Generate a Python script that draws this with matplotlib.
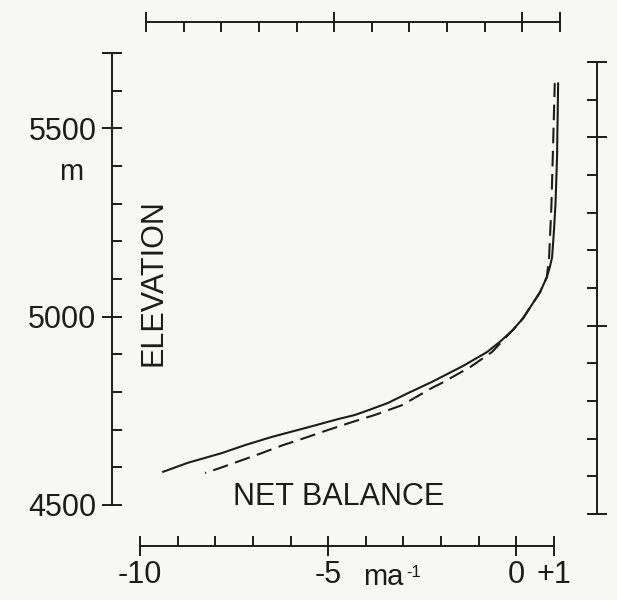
import matplotlib
matplotlib.use("Agg")
import matplotlib.pyplot as plt
from matplotlib.ticker import FixedLocator, FixedFormatter, NullFormatter

plt.rcParams['font.family'] = ['Liberation Sans', 'DejaVu Sans']

# ---- data ----
bal_solid = [-9.39, -8.73, -7.82, -7.21, -6.49, -5.62, -4.74, -4.29, -3.84,
             -3.41, -2.88, -2.24, -1.42, -0.78, -0.44, -0.09, 0.18, 0.44,
             0.63, 0.81, 0.89, 0.95, 1.00, 1.04, 1.08, 1.11]
elev_solid = [4588, 4612, 4638, 4659, 4681, 4704, 4728, 4739, 4755,
              4771, 4797, 4827, 4869, 4906, 4933, 4965, 4996, 5036,
              5065, 5105, 5132, 5158, 5230, 5300, 5420, 5620]

bal_dash = [-8.27, -7.88, -6.76, -6.20, -5.62, -5.01, -4.37, -3.76, -3.04,
            -2.24, -1.98, -1.23, -0.65, -0.09, 0.18, 0.44, 0.63, 0.81,
            0.87, 0.93, 0.98, 1.02]
elev_dash = [4585, 4598, 4638, 4659, 4678, 4699, 4720, 4739, 4765,
             4811, 4824, 4866, 4906, 4965, 4996, 5036, 5065, 5105,
             5158, 5291, 5469, 5620]

x_major = [-10, -5, 0, 1]
x_major_labels = ['-10', '-5', '0', '+1']
x_minor = [-9, -8, -7, -6, -4, -3, -2, -1]
y_major = [4500, 5000, 5500, 5700]
y_major_labels = ['4500', '5000', '5500', '']
y_minor = [4600, 4700, 4800, 4900, 5100, 5200, 5300, 5400, 5600]

# ---- layout ----
W, H = 617, 600
BG = '#f7f8f6'
INK = '#1c1c1c'
LW = 1.4
PT = 0.72  # points per pixel at 100 dpi

fig = plt.figure(figsize=(W / 100, H / 100), dpi=100)
fig.patch.set_facecolor(BG)

def fx(px):
    return px / W

def fy(py):
    return 1 - py / H

X0, X1 = 140, 554   # pixel of -10 and +1
Y0, Y1 = 505, 53    # pixel of 4500 and 5700

ax = fig.add_axes([fx(X0), fy(Y0), (X1 - X0) / W, (Y0 - Y1) / H])
ax.set_xlim(-10, 1)
ax.set_ylim(4500, 5700)
ax.patch.set_visible(False)
for s in ('top', 'right'):
    ax.spines[s].set_visible(False)
ax.spines['left'].set_position(('outward', (X0 - 112) * PT))
ax.spines['left'].set_bounds(4500, 5700)
ax.spines['bottom'].set_position(('outward', (546 - Y0) * PT))
ax.spines['bottom'].set_bounds(-10, 1)
for s in ('left', 'bottom'):
    ax.spines[s].set_linewidth(LW)
    ax.spines[s].set_color(INK)

ax.xaxis.set_major_locator(FixedLocator(x_major))
ax.xaxis.set_major_formatter(FixedFormatter(x_major_labels))
ax.xaxis.set_minor_locator(FixedLocator(x_minor))
ax.yaxis.set_major_locator(FixedLocator(y_major))
ax.yaxis.set_major_formatter(FixedFormatter(y_major_labels))
ax.yaxis.set_minor_locator(FixedLocator(y_minor))
ax.tick_params(which='major', direction='inout', length=20 * PT, width=LW,
               color=INK, labelsize=22, labelcolor=INK)
ax.tick_params(which='minor', direction='in', length=10 * PT, width=LW, color=INK)
ax.tick_params(axis='x', which='major', pad=3)
ax.tick_params(axis='y', which='major', pad=4)

ax.plot(bal_solid, elev_solid, color=INK, lw=1.5, solid_capstyle='round',
        solid_joinstyle='round', clip_on=False)
ax.plot(bal_dash, elev_dash, color=INK, lw=1.5, linestyle=(7.0, (7.5, 3.6)),
        clip_on=False)

# top axis (slightly shifted as in the scan)
axt = fig.add_axes([fx(X0 + 6), fy(Y0), (X1 - X0) / W, (Y0 - Y1) / H])
axt.set_xlim(-10, 1)
axt.patch.set_visible(False)
for s in ('bottom', 'left', 'right'):
    axt.spines[s].set_visible(False)
axt.spines['top'].set_position(('outward', (Y1 - 22) * PT))
axt.spines['top'].set_bounds(-10, 1)
axt.spines['top'].set_linewidth(LW)
axt.spines['top'].set_color(INK)
axt.yaxis.set_visible(False)
axt.xaxis.tick_top()
axt.xaxis.set_major_locator(FixedLocator(x_major))
axt.xaxis.set_major_formatter(NullFormatter())
axt.xaxis.set_minor_locator(FixedLocator(x_minor))
axt.tick_params(which='major', direction='inout', length=20 * PT, width=LW, color=INK)
axt.tick_params(which='minor', direction='in', length=10 * PT, width=LW, color=INK)

# right axis (slightly shifted as in the scan)
axr = fig.add_axes([fx(X0), fy(Y0 + 9), (X1 - X0) / W, (Y0 - Y1) / H])
axr.set_ylim(4500, 5700)
axr.patch.set_visible(False)
for s in ('bottom', 'left', 'top'):
    axr.spines[s].set_visible(False)
axr.spines['right'].set_position(('outward', (597 - X1) * PT))
axr.spines['right'].set_bounds(4500, 5700)
axr.spines['right'].set_linewidth(LW)
axr.spines['right'].set_color(INK)
axr.xaxis.set_visible(False)
axr.yaxis.tick_right()
axr.yaxis.set_major_locator(FixedLocator(y_major))
axr.yaxis.set_major_formatter(NullFormatter())
axr.yaxis.set_minor_locator(FixedLocator(y_minor))
axr.tick_params(which='major', direction='inout', length=20 * PT, width=LW, color=INK)
axr.tick_params(which='minor', direction='in', length=10 * PT, width=LW, color=INK)

# labels
fig.text(fx(71), fy(172), 'm', fontsize=21, color=INK, ha='center', va='center')
fig.text(fx(153), fy(283), 'ELEVATION', fontsize=22, color=INK, rotation=90,
         ha='center', va='center')
fig.text(fx(339), fy(497), 'NET BALANCE', fontsize=22, color=INK,
         ha='center', va='center')
fig.text(fx(363), fy(585), 'ma', fontsize=21, color=INK, ha='left', va='baseline')
fig.text(fx(406), fy(577), '-1', fontsize=12, color=INK, ha='left', va='baseline')

fig.savefig('out.png', dpi=100, facecolor=BG)
